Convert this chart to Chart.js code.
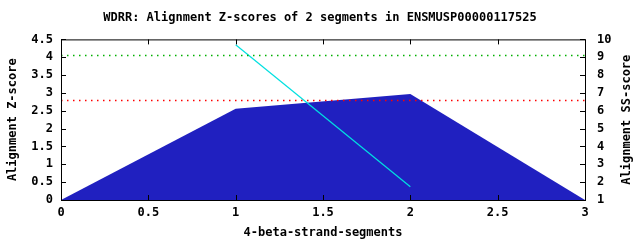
<!DOCTYPE html>
<html>
<head>
<meta charset="utf-8">
<script src="https://cdn.jsdelivr.net/npm/chart.js@4"></script>
<style>
  html, body { margin: 0; padding: 0; background: #fff; }
  #wrap { width: 640px; height: 240px; }
</style>
</head>
<body>
<div id="wrap"><canvas id="chart" width="640" height="240"></canvas></div>
<script>
const segmentX = [0, 1, 2, 3];
const zScores = [0, 2.56, 2.97, 0];
const ssX = [1, 2];
const ssScores = [9.7, 1.74];
const greenLevel = 4.05;
const redLevel = 2.79;
const xTickRange = [0, 3];
const zRange = [0, 4.5];
const ssRange = [1, 10];

const FONT = "'DejaVu Sans Mono', 'Liberation Mono', monospace";
const font = { family: FONT, size: 12, weight: "bold" };
const plain = (v) => String(Number(v.toFixed(1)));

// box around the plot plus inward tick marks, and the right title read bottom-to-top
const frame = {
    id: "frame",
    afterDatasetsDraw(chart) {
        const { ctx, chartArea: a, scales } = chart;
        ctx.save();
        ctx.strokeStyle = "#000";
        ctx.lineWidth = 1;
        ctx.strokeRect(a.left + 0.5, a.top + 0.5, a.right - a.left, a.bottom - a.top);
        ctx.beginPath();
        scales.x.ticks.forEach((t) => {
            const px = Math.round(scales.x.getPixelForValue(t.value)) + 0.5;
            ctx.moveTo(px, a.top); ctx.lineTo(px, a.top + 5);
            ctx.moveTo(px, a.bottom); ctx.lineTo(px, a.bottom - 5);
        });
        scales.y.ticks.forEach((t) => {
            const py = Math.round(scales.y.getPixelForValue(t.value)) + 0.5;
            ctx.moveTo(a.left, py); ctx.lineTo(a.left + 5, py);
        });
        scales.y2.ticks.forEach((t) => {
            const py = Math.round(scales.y2.getPixelForValue(t.value)) + 0.5;
            ctx.moveTo(a.right, py); ctx.lineTo(a.right - 5, py);
        });
        ctx.stroke();

        ctx.fillStyle = "#000";
        ctx.font = "bold 12px " + FONT;
        ctx.textAlign = "center";
        ctx.textBaseline = "middle";
        ctx.translate(627, (a.top + a.bottom) / 2);
        ctx.rotate(-Math.PI / 2);
        ctx.fillText("Alignment SS-score", 0, 0);
        ctx.restore();
    }
};

new Chart(document.getElementById("chart"), {
    type: "line",
    data: {
        datasets: [
            {
                label: "threshold high",
                data: xTickRange.map((x) => ({ x: x, y: greenLevel })),
                borderColor: "#00b000",
                borderWidth: 1.5,
                borderDash: [1.5, 4.5],
                pointRadius: 0,
                yAxisID: "y",
            },
            {
                label: "threshold low",
                data: xTickRange.map((x) => ({ x: x, y: redLevel })),
                borderColor: "#ff0000",
                borderWidth: 1.5,
                borderDash: [1.5, 4.5],
                pointRadius: 0,
                yAxisID: "y",
            },
            {
                label: "SS-score",
                data: ssX.map((x, i) => ({ x: x, y: ssScores[i] })),
                borderColor: "#00e0e0",
                borderWidth: 1.2,
                pointRadius: 0,
                yAxisID: "y2",
            },
            {
                label: "Z-score",
                data: segmentX.map((x, i) => ({ x: x, y: zScores[i] })),
                borderColor: "#2020c0",
                backgroundColor: "#2020c0",
                borderWidth: 0,
                fill: "origin",
                pointRadius: 0,
                yAxisID: "y",
            },
        ],
    },
    options: {
        responsive: false,
        animation: false,
        layout: { padding: { left: 0, right: 0, top: 0, bottom: 0 } },
        plugins: {
            legend: { display: false },
            tooltip: { enabled: false },
            title: {
                display: true,
                text: "WDRR: Alignment Z-scores of 2 segments in ENSMUSP00000117525",
                color: "#000",
                font: font,
                padding: { top: 11, bottom: 14 },
            },
        },
        scales: {
            x: {
                type: "linear",
                min: xTickRange[0],
                max: xTickRange[1],
                ticks: { stepSize: 0.5, color: "#000", font: font, padding: 6, maxRotation: 0, callback: plain },
                grid: { display: false, drawTicks: false, tickLength: 0 },
                border: { display: false },
                title: { display: true, text: "4-beta-strand-segments", color: "#000", font: font, padding: { top: 4, bottom: 0 } },
                afterFit(scale) { scale.height = 40; },
            },
            y: {
                position: "left",
                min: zRange[0],
                max: zRange[1],
                ticks: { stepSize: 0.5, color: "#000", font: font, padding: 8, callback: plain },
                grid: { display: false, drawTicks: false, tickLength: 0 },
                border: { display: false },
                title: { display: true, text: "Alignment Z-score", color: "#000", font: font, padding: { top: 6, bottom: 4 } },
                afterFit(scale) { scale.width = 61; },
            },
            y2: {
                position: "right",
                min: ssRange[0],
                max: ssRange[1],
                ticks: { stepSize: 1, color: "#000", font: font, padding: 12 },
                grid: { display: false, drawTicks: false, tickLength: 0 },
                border: { display: false },
                afterFit(scale) { scale.width = 55; },
            },
        },
    },
    plugins: [frame],
});
</script>
</body>
</html>
